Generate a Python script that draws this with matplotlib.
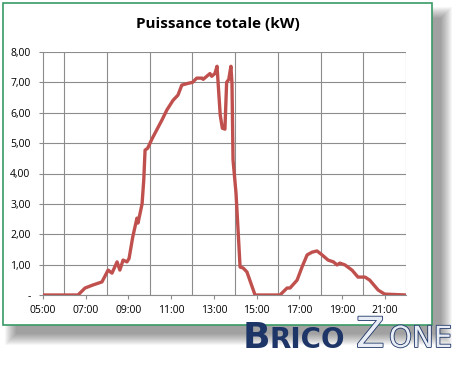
import matplotlib
matplotlib.use("Agg")
import matplotlib.pyplot as plt
import matplotlib.patheffects as pe
from matplotlib.patches import Rectangle

# hours (decimal) and power in kW
hours = [5.0, 6.64, 6.97, 7.34, 7.76, 8.05, 8.23, 8.47, 8.6, 8.75, 8.93, 9.03,
         9.2, 9.4, 9.45, 9.64, 9.72, 9.78, 9.9, 10.12, 10.57, 10.8, 11.09,
         11.32, 11.5, 11.8, 12.0, 12.2, 12.45, 12.5, 12.82, 12.9, 13.05, 13.15,
         13.3, 13.4, 13.52, 13.6, 13.7, 13.8, 13.85, 13.9, 14.04, 14.23, 14.37,
         14.55, 14.93, 16.1, 16.43, 16.57, 16.9, 17.13, 17.37, 17.6, 17.83,
         18.07, 18.35, 18.6, 18.77, 18.9, 19.14, 19.47, 19.75, 20.08, 20.3,
         20.7, 21.0, 22.0]
power = [0.0, 0.0, 0.23, 0.33, 0.43, 0.82, 0.72, 1.09, 0.82, 1.15, 1.09, 1.2,
         1.9, 2.53, 2.37, 3.0, 3.8, 4.77, 4.83, 5.16, 5.76, 6.09, 6.41,
         6.58, 6.91, 6.97, 7.0, 7.14, 7.14, 7.1, 7.29, 7.2, 7.29, 7.53,
         5.92, 5.49, 5.46, 7.0, 7.1, 7.53, 6.97, 4.44, 3.35, 0.92, 0.89,
         0.76, 0.0, 0.0, 0.23, 0.23, 0.49, 0.92, 1.32, 1.41, 1.45,
         1.32, 1.15, 1.09, 0.99, 1.05, 0.99, 0.82, 0.59, 0.59, 0.49,
         0.16, 0.03, 0.0]

xtick_pos = [5, 7, 9, 11, 13, 15, 17, 19, 21]
xtick_labels = ["05:00", "07:00", "09:00", "11:00", "13:00", "15:00", "17:00", "19:00", "21:00"]
ytick_pos = [0, 1, 2, 3, 4, 5, 6, 7, 8]
ytick_labels = ["-", "1,00", "2,00", "3,00", "4,00", "5,00", "6,00", "7,00", "8,00"]

plt.rcParams['font.family'] = ['Open Sans', 'DejaVu Sans']

fig = plt.figure(figsize=(4.74, 3.66), dpi=100)
fig.patch.set_facecolor("white")
W, H = 474.0, 366.0

def px_rect(x0, y0, x1, y1, **kw):
    # rectangle given in picture pixels (origin top-left)
    return Rectangle((x0 / W, 1 - y1 / H), (x1 - x0) / W, (y1 - y0) / H,
                     transform=fig.transFigure, **kw)

# soft drop shadow, offset to the lower right
for r in range(12, 0, -1):
    fig.patches.append(px_rect(3 + 14 - r, 3 + 16 - r, 432 + 8 + r, 325 + 8 + r,
                               facecolor="black", edgecolor="none", alpha=0.035, zorder=0))
# chart frame
fig.patches.append(px_rect(3, 3, 432, 325, facecolor="white",
                           edgecolor="#3a9a66", linewidth=1.2, zorder=1))

ax = fig.add_axes([43 / W, 1 - 295 / H, (406 - 43) / W, (295 - 52) / H])
ax.set_zorder(2)
ax.patch.set_alpha(0)

ax.plot(hours, power, color="#c0504d", linewidth=2.4, solid_joinstyle="round", zorder=3)

ax.set_xlim(5, 22)
ax.set_ylim(0, 8)
ax.set_xticks(xtick_pos)
ax.set_xticklabels(xtick_labels)
ax.set_xticks(range(5, 23), minor=True)
ax.set_yticks(ytick_pos)
ax.set_yticklabels(ytick_labels)

ax.grid(True, which="major", axis="y", color="#8c8c8c", linewidth=0.8)
ax.grid(True, which="minor", axis="x", color="#8c8c8c", linewidth=0.8)
ax.tick_params(axis="x", which="minor", length=0)
ax.tick_params(axis="both", which="major", labelsize=7.5, color="#8c8c8c", length=3, pad=6)
ax.tick_params(axis="x", which="major", pad=4)
for s in ["top", "right"]:
    ax.spines[s].set_visible(False)
ax.spines["left"].set_color("#8c8c8c")
ax.spines["bottom"].set_color("#8c8c8c")

fig.text(218 / W, 1 - 24 / H, "Puissance totale (kW)", ha="center", va="center",
         fontsize=11, fontweight="bold", zorder=5)

# site watermark
navy = "#1d3567"
fig.text(243 / W, 1 - 348 / H, "B", fontsize=26, fontweight="bold", color=navy,
         va="baseline", ha="left", family="DejaVu Sans", zorder=6)
fig.text(270 / W, 1 - 348 / H, "RICO", fontsize=20, fontweight="bold", color=navy,
         va="baseline", ha="left", family="DejaVu Sans", zorder=6)
zone = [pe.Stroke(linewidth=1.2, foreground=navy), pe.Normal()]
fig.text(356 / W, 1 - 347 / H, "Z", fontsize=30, color="#e8ecf4", va="baseline",
         ha="left", family="DejaVu Sans", zorder=6, path_effects=zone)
fig.text(389 / W, 1 - 347 / H, "ONE", fontsize=21, color="#e8ecf4", va="baseline",
         ha="left", family="DejaVu Sans", zorder=6, path_effects=zone)

fig.savefig("out.png", dpi=100)
